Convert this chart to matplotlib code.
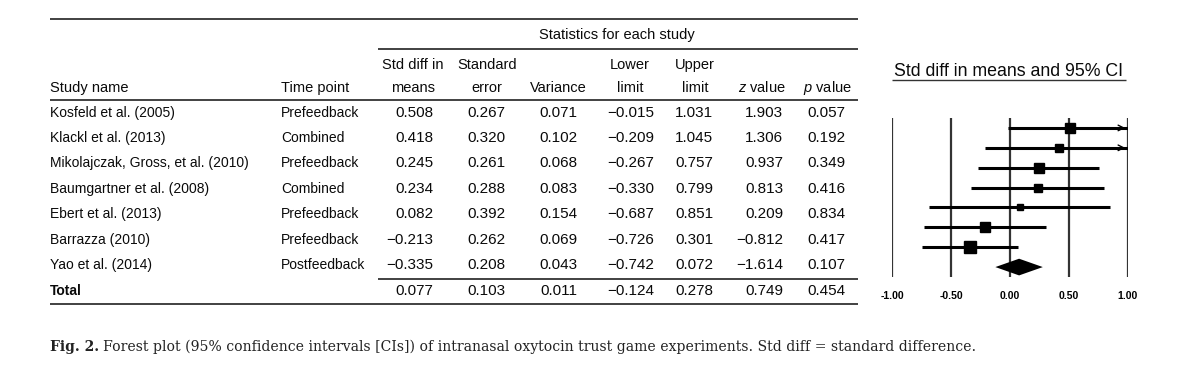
import matplotlib.pyplot as plt

studies = ['Kosfeld et al. (2005)', 'Klackl et al. (2013)', 'Mikolajczak, Gross, et al. (2010)',
           'Baumgartner et al. (2008)', 'Ebert et al. (2013)', 'Barrazza (2010)', 'Yao et al. (2014)']
time_points = ['Prefeedback', 'Combined', 'Prefeedback', 'Combined', 'Prefeedback', 'Prefeedback', 'Postfeedback']
std_diff = [0.508, 0.418, 0.245, 0.234, 0.082, -0.213, -0.335]
std_err = [0.267, 0.320, 0.261, 0.288, 0.392, 0.262, 0.208]
variance = [0.071, 0.102, 0.068, 0.083, 0.154, 0.069, 0.043]
lower = [-0.015, -0.209, -0.267, -0.330, -0.687, -0.726, -0.742]
upper = [1.031, 1.045, 0.757, 0.799, 0.851, 0.301, 0.072]
z_val = [1.903, 1.306, 0.937, 0.813, 0.209, -0.812, -1.614]
p_val = [0.057, 0.192, 0.349, 0.416, 0.834, 0.417, 0.107]
total = [0.077, 0.103, 0.011, -0.124, 0.278, 0.749, 0.454]
ticks = [-1.0, -0.5, 0.0, 0.5, 1.0]

FONT = ['Liberation Sans', 'DejaVu Sans']
plt.rcParams['mathtext.fontset'] = 'custom'
plt.rcParams['mathtext.it'] = 'Liberation Sans:italic'
plt.rcParams['mathtext.rm'] = 'Liberation Sans'
W, H = 1200, 384

fig = plt.figure(figsize=(12, 3.84), dpi=100)

# table axes in pixel coordinates
tab = fig.add_axes([0, 0, 1, 1])
tab.set_xlim(0, W)
tab.set_ylim(H, 0)
tab.axis('off')


def fmt(v):
    s = '%.3f' % abs(v)
    return ('\u2212' + s) if v < 0 else s


def txt(x, y, s, ha='left', size=10, **kw):
    tab.text(x, y, s, ha=ha, va='center', fontsize=size, family=FONT, color='#0a0a0a', **kw)


def hline(x0, x1, y, lw=1.3):
    tab.plot([x0, x1], [y, y], color='#333333', lw=lw, solid_capstyle='butt')


hline(50, 858, 19)
txt(617, 35, 'Statistics for each study', ha='center', size=10.5)
hline(378, 858, 49)

col_right = [433, 505, 577, 654, 713, 783, 845]
col_center = [413, 487, 558, 630, 695, 762, 827]
head1 = ['Std diff in', 'Standard', '', 'Lower', 'Upper', '', '']
head2 = ['means', 'error', 'Variance', 'limit', 'limit', r'$\it{z}$ value', r'$\it{p}$ value']
for c, a, b in zip(col_center, head1, head2):
    if a:
        txt(c, 65, a, ha='center', size=10.5)
    if b:
        txt(c, 88, b, ha='center', size=10.5)
txt(50, 88, 'Study name', size=10.5)
txt(281, 88, 'Time point', size=10.5)
hline(50, 858, 100)

row_y = [113, 138, 163, 189, 214, 240, 265]
for i, y in enumerate(row_y):
    txt(50, y, studies[i])
    txt(281, y, time_points[i])
    vals = [std_diff[i], std_err[i], variance[i], lower[i], upper[i], z_val[i], p_val[i]]
    for x, v in zip(col_right, vals):
        txt(x, y, fmt(v), ha='right', size=11)

hline(378, 858, 279)
txt(50, 291, 'Total', fontweight='bold')
for x, v in zip(col_right, total):
    txt(x, 291, fmt(v), ha='right', size=11)
hline(50, 858, 304)

# caption
tab.text(50, 347, 'Fig. 2.', ha='left', va='center', fontsize=10, family='DejaVu Serif',
         fontweight='bold', color='#222222')
tab.text(103, 347, 'Forest plot (95% confidence intervals [CIs]) of intranasal oxytocin trust game '
         'experiments. Std diff = standard difference.', ha='left', va='center', fontsize=10.1,
         family='DejaVu Serif', color='#222222')

# forest plot title (underlined)
tab.text(1009, 71, 'Std diff in means and 95% CI', ha='center', va='center', fontsize=12.8,
         family=FONT, color='#0a0a0a')
hline(892, 1126, 80, lw=1.0)

# forest axes
x0, x1 = 892, 1128
y_top, y_bot = 118, 277
ax = fig.add_axes([x0 / W, 1 - y_bot / H, (x1 - x0) / W, (y_bot - y_top) / H])
ax.set_xlim(-1.0, 1.0)
ax.set_ylim(7.5, -0.5)
ax.patch.set_alpha(0)
for s in ax.spines.values():
    s.set_visible(False)
ax.set_yticks([])
for t in ticks:
    ax.axvline(t, color='#333333', lw=1.6, zorder=1)

for i in range(len(std_diff)):
    hi = min(upper[i], 1.0)
    ax.plot([lower[i], hi], [i, i], color='black', lw=2.2, solid_capstyle='butt', zorder=2)
    if upper[i] > 1.0:
        ax.annotate('', xy=(1.0, i), xytext=(0.9, i),
                    arrowprops=dict(arrowstyle='->', color='black', lw=1.0, mutation_scale=10),
                    zorder=3)
    side = 2.5 * (1 / variance[i]) ** 0.5 * 0.72
    ax.plot(std_diff[i], i, marker='s', color='black', markersize=side, zorder=4)

yd = len(std_diff)
ax.fill([total[3], total[0], total[4], total[0]], [yd, yd - 0.42, yd, yd + 0.42],
        color='black', zorder=4, lw=0)

ax.set_xticks(ticks)
ax.set_xticklabels(['%.2f' % t for t in ticks])
ax.tick_params(axis='x', length=0, pad=10)
for lab in ax.get_xticklabels():
    lab.set_fontsize(7.5)
    lab.set_fontweight('bold')
    lab.set_family(FONT)

fig.savefig('out.png', dpi=100)
